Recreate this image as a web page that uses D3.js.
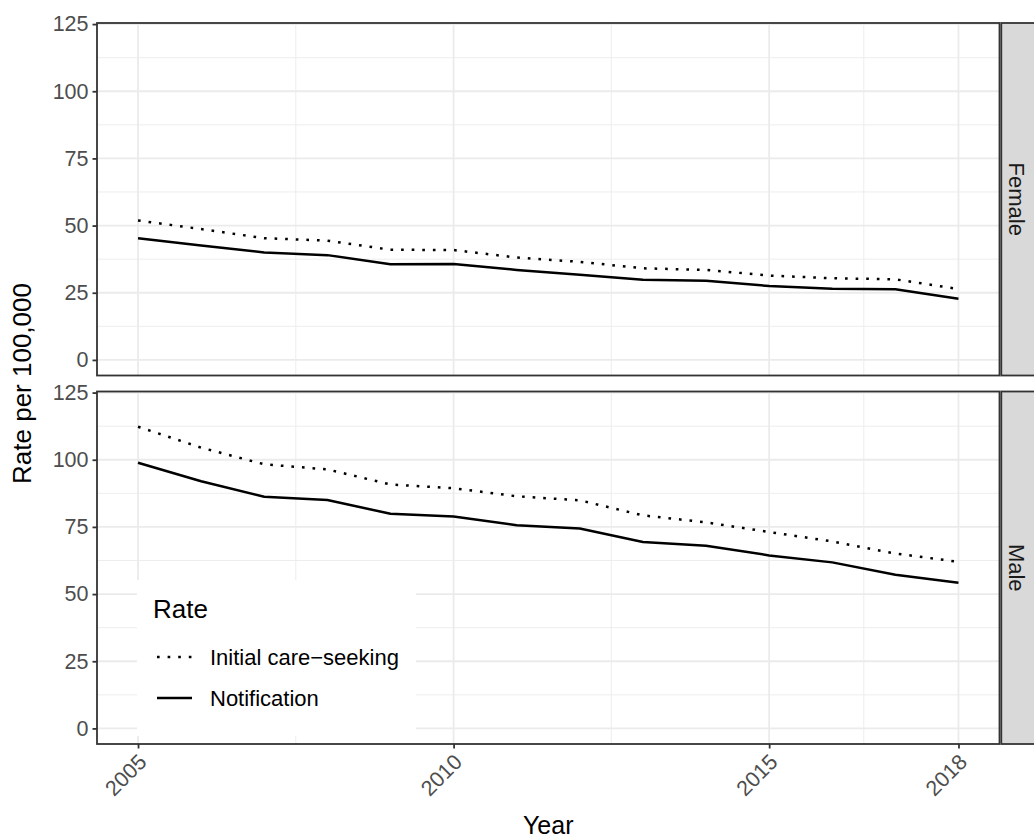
<!DOCTYPE html>
<html>
<head>
<meta charset="utf-8">
<script src="https://cdn.jsdelivr.net/npm/d3@7"></script>
<style>
  body { margin: 0; background: #fff; }
  svg { display: block; font-family: "Liberation Sans", Arial, sans-serif; }
</style>
</head>
<body>
<svg id="chart" width="1034" height="840"></svg>
<script>
const years = [2005, 2006, 2007, 2008, 2009, 2010, 2011, 2012, 2013, 2014, 2015, 2016, 2017, 2018];
const panels = ["Female", "Male"];
const seriesNames = ["Initial care\u2212seeking", "Notification"];
const femaleInitial = [51.9, 48.7, 45.3, 44.4, 41.0, 40.9, 38.1, 36.5, 34.1, 33.5, 31.4, 30.4, 30.0, 26.4];
const femaleNotification = [45.3, 42.6, 40.0, 39.0, 35.6, 35.7, 33.5, 31.7, 29.8, 29.5, 27.5, 26.5, 26.3, 22.8];
const maleInitial = [112.3, 104.5, 98.3, 96.4, 90.8, 89.4, 86.4, 84.9, 79.3, 76.7, 73.1, 69.6, 65.1, 62.0];
const maleNotification = [98.9, 92.0, 86.2, 85.0, 79.9, 78.9, 75.6, 74.4, 69.4, 68.0, 64.4, 61.8, 57.2, 54.2];
const xBreaks = [2005, 2010, 2015, 2018];
const xMinor = [2007.5, 2012.5, 2016.5];
const yBreaks = [0, 25, 50, 75, 100, 125];
const yMinor = [12.5, 37.5, 62.5, 87.5, 112.5];

const panelData = {
  Female: [femaleInitial, femaleNotification],
  Male: [maleInitial, maleNotification]
};

const svg = d3.select("#chart");
const left = 97, right = 999.5;
const panelBoxes = [{top: 23, bottom: 375.5}, {top: 391.5, bottom: 744}];
const grid = "#EBEBEB", dark = "#333333";
const smallFont = 21.5;

const x = d3.scaleLinear().domain([2005 - 0.65, 2018 + 0.65]).range([left, right]);

const dashes = ["2.65,7.95", null];

panels.forEach((p, i) => {
  const box = panelBoxes[i];
  const y = d3.scaleLinear().domain([-5.8, 125.4]).range([box.bottom, box.top]);
  const g = svg.append("g");
  g.append("rect").attr("x", left).attr("y", box.top).attr("width", right - left).attr("height", box.bottom - box.top).attr("fill", "#fff");
  g.selectAll(".ymin").data(yMinor).enter().append("line")
    .attr("x1", left).attr("x2", right).attr("y1", d => y(d)).attr("y2", d => y(d))
    .attr("stroke", grid).attr("stroke-width", 0.9);
  g.selectAll(".xmin").data(xMinor).enter().append("line")
    .attr("y1", box.top).attr("y2", box.bottom).attr("x1", d => x(d)).attr("x2", d => x(d))
    .attr("stroke", grid).attr("stroke-width", 0.9);
  g.selectAll(".ymaj").data(yBreaks).enter().append("line")
    .attr("x1", left).attr("x2", right).attr("y1", d => y(d)).attr("y2", d => y(d))
    .attr("stroke", grid).attr("stroke-width", 1.8);
  g.selectAll(".xmaj").data(xBreaks).enter().append("line")
    .attr("y1", box.top).attr("y2", box.bottom).attr("x1", d => x(d)).attr("x2", d => x(d))
    .attr("stroke", grid).attr("stroke-width", 1.8);

  if (p === "Male") {
    const lg = svg.append("g").attr("class", "legend");
    lg.append("rect").attr("x", 137).attr("y", 580).attr("width", 279).attr("height", 156).attr("fill", "#fff");
    lg.append("text").attr("x", 153).attr("y", 618).attr("font-size", 26).attr("fill", "#000").text("Rate");
    seriesNames.forEach((s, k) => {
      const ky = 657 + k * 41;
      const ln = lg.append("line").attr("x1", 157).attr("x2", 192).attr("y1", ky).attr("y2", ky)
        .attr("stroke", "#000").attr("stroke-width", 2.5).attr("stroke-linecap", "butt");
      if (dashes[k]) ln.attr("stroke-dasharray", dashes[k]);
      lg.append("text").attr("x", 210).attr("y", ky + 8).attr("font-size", 22).attr("fill", "#000").text(s);
    });
  }

  const line = d3.line().x((d, j) => x(years[j])).y(d => y(d));
  panelData[p].forEach((vals, k) => {
    const path = svg.append("path").datum(vals).attr("d", line)
      .attr("fill", "none").attr("stroke", "#000").attr("stroke-width", 2.5)
      .attr("stroke-linejoin", "round").attr("stroke-linecap", "butt");
    if (dashes[k]) path.attr("stroke-dasharray", dashes[k]);
  });

  svg.append("rect").attr("x", left).attr("y", box.top).attr("width", right - left).attr("height", box.bottom - box.top)
    .attr("fill", "none").attr("stroke", dark).attr("stroke-width", 1.8);

  svg.append("rect").attr("x", 1001.3).attr("y", box.top).attr("width", 40).attr("height", box.bottom - box.top)
    .attr("fill", "#D9D9D9").attr("stroke", dark).attr("stroke-width", 1.8);
  const cy = (box.top + box.bottom) / 2;
  svg.append("text").attr("transform", `translate(1017,${cy}) rotate(90)`)
    .attr("text-anchor", "middle").attr("dy", "0.35em").attr("font-size", 22).attr("fill", "#1A1A1A").text(p);

  const ya = svg.append("g").attr("transform", `translate(${left},0)`)
    .call(d3.axisLeft(y).tickValues(yBreaks).tickSize(4.5).tickPadding(4));
  ya.select(".domain").remove();
  ya.selectAll(".tick line").attr("stroke", dark).attr("stroke-width", 1.8);
  ya.selectAll(".tick text").attr("fill", "#4D4D4D").attr("font-size", smallFont)
    .attr("font-family", "Liberation Sans, Arial, sans-serif");
});

const xa = svg.append("g").attr("transform", `translate(0,${panelBoxes[1].bottom})`)
  .call(d3.axisBottom(x).tickValues(xBreaks).tickSize(4.5).tickFormat(d3.format("d")));
xa.select(".domain").remove();
xa.selectAll(".tick line").attr("stroke", dark).attr("stroke-width", 1.8);
xa.selectAll(".tick text")
  .attr("fill", "#4D4D4D").attr("font-size", smallFont).attr("font-family", "Liberation Sans, Arial, sans-serif")
  .attr("text-anchor", "end").attr("y", 0).attr("dy", "0.75em")
  .attr("transform", "translate(-2,8) rotate(-45)");

svg.append("text").attr("x", (left + right) / 2).attr("y", 834).attr("text-anchor", "middle")
  .attr("font-size", 25).attr("fill", "#000").text("Year");
svg.append("text").attr("transform", `translate(31,${(panelBoxes[0].top + panelBoxes[1].bottom) / 2}) rotate(-90)`)
  .attr("text-anchor", "middle").attr("font-size", 26).attr("fill", "#000").text("Rate per 100,000");
</script>
</body>
</html>
